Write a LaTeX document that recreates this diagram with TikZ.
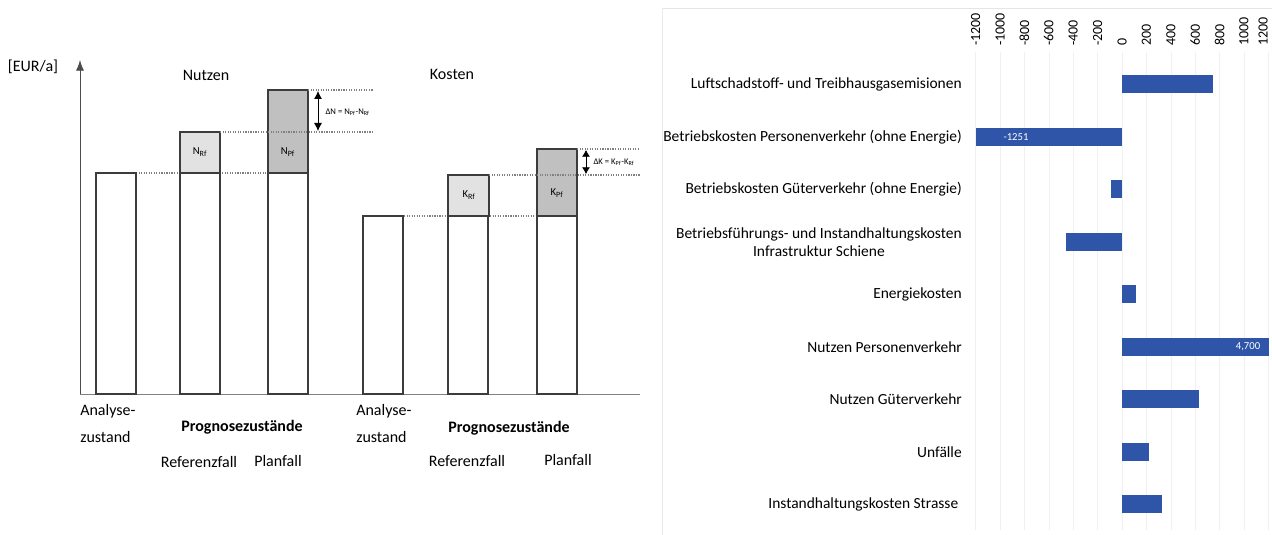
\documentclass[tikz,border=0pt]{standalone}
\usepackage{fontspec}
\setmainfont{Carlito}
\usetikzlibrary{arrows.meta}
\usetikzlibrary{positioning}
\definecolor{barblue}{RGB}{47,85,168}
\definecolor{lightbox}{RGB}{226,226,226}
\definecolor{darkbox}{RGB}{192,192,192}
\definecolor{boxline}{RGB}{60,60,60}

\begin{document}
\begin{tikzpicture}[x=0.75pt, y=-0.75pt,
  bar/.style={draw=boxline, line width=1.4pt},
  guide/.style={densely dotted, gray, line width=0.9pt},
  lbl/.style={font=\fontsize{12}{14}\selectfont, inner sep=0pt},
  small/.style={font=\fontsize{6.5}{8}\selectfont, inner sep=1pt},
  boxlbl/.style={font=\fontsize{8}{9}\selectfont, inner sep=1pt},
  cat/.style={font=\fontsize{11.6}{13.5}\selectfont, anchor=east, align=center, inner sep=0pt},
  tick/.style={font=\fontsize{10.5}{12}\selectfont, rotate=90, anchor=west, inner sep=0pt}]

 \useasboundingbox (0,0) rectangle (1272,535);

 %left: axes
 \coordinate (origin) at (80,394);
 \coordinate (ytop) at (80,60);
 \coordinate (xend) at (640,394);
 \draw[gray, line width=0.6pt] (origin) -- (xend);
 \draw[-{Latex[length=8pt,width=6pt]}, gray!60!black, line width=0.6pt] (origin) -- (ytop);
 \node[lbl] (unit) at (33,67) {[EUR/a]};

 % guides
 \draw[guide] (136,173) -- (268,173);
 \draw[guide] (404,216) -- (537,216);

 % bars
 \foreach \xl/\top in { 96/173, 180/173, 268/173, 363/216, 448/216, 537/216 } {
         \draw[bar, fill=white] (\xl,394) rectangle (\xl+40,\top);
 }
 \draw[bar, fill=lightbox] (180,173) rectangle (220,132);
 \draw[bar, fill=darkbox] (268,173) rectangle (308,90);
 \draw[bar, fill=lightbox] (448,216) rectangle (489,175);
 \draw[bar, fill=darkbox] (537,216) rectangle (577,149);

 \draw[guide] (220,132) -- (373,132);
 \draw[guide] (308,90) -- (373,90);
 \draw[guide] (489,175) -- (640,175);
 \draw[guide] (577,149) -- (640,149);

 \node[boxlbl] (nrf) at (200,152) {N\textsubscript{Rf}};
 \node[boxlbl] (npf) at (288,152) {N\textsubscript{Pf}};
 \node[boxlbl] (krf) at (469,195) {K\textsubscript{Rf}};
 \node[boxlbl] (kpf) at (557,193) {K\textsubscript{Pf}};

 % differences
 \coordinate (dn1) at (318,91);
 \coordinate (dn2) at (318,131);
 \draw[{Latex[length=6pt,width=6pt]}-{Latex[length=6pt,width=6pt]}, line width=0.6pt] (dn1) -- (dn2);
 \node[small, anchor=west] (dn) at (324,112) {ΔN = N\textsubscript{Pf}-N\textsubscript{Rf}};
 \coordinate (dk1) at (586,150);
 \coordinate (dk2) at (586,174);
 \draw[{Latex[length=5pt,width=6pt]}-{Latex[length=5pt,width=6pt]}, line width=0.6pt] (dk1) -- (dk2);
 \node[small, anchor=west] (dk) at (592,162) {ΔK = K\textsubscript{Pf}-K\textsubscript{Rf}};

 % titles and x labels
 \node[lbl] (nutzen) at (206,75) {Nutzen};
 \node[lbl] (kosten) at (452,74) {Kosten};
 \foreach \x/\s in { 80/1, 356/2 } {
         \node[lbl, anchor=west] (ana\s) at (\x,411) {Analyse-};
         \node[lbl, anchor=west] (zus\s) at (\x,437) {zustand};
 }
 \node[lbl, font=\fontsize{12}{14}\selectfont\bfseries] (prog1) at (242,427) {Prognosezustände};
 \node[lbl, font=\fontsize{12}{14}\selectfont\bfseries] (prog2) at (509,428) {Prognosezustände};
 \node[lbl] (ref1) at (199,462) {Referenzfall};
 \node[lbl] (plan1) at (278,461) {Planfall};
 \node[lbl] (ref2) at (467,461) {Referenzfall};
 \node[lbl] (plan2) at (568,460) {Planfall};

 %right: bar chart
 \draw[black!10] (662,8) -- (1272,8);
 \draw[black!8] (662,8) -- (662,535);
 \foreach \v in { -1200,-1000,...,1200 } {
         \pgfmathsetmacro{\tx}{min(1122+\v*0.122,1263)}
         \draw[black!6] ({1122+\v*0.122},52) -- ({1122+\v*0.122},530);
         \node[tick] (t\v) at (\tx,46) {\v};
 }

 \foreach \yy/\val/\n/\txt in {
     84/746/c1/{Luftschadstoff- und Treibhausgasemisionen},
     137/-1200/c2/{Betriebskosten Personenverkehr (ohne Energie)},
     189/-90/c3/{Betriebskosten Güterverkehr (ohne Energie)},
     242/-460/c4/{Betriebsführungs- und Instandhaltungskosten\\Infrastruktur Schiene},
     294/115/c5/{Energiekosten},
     347/1205/c6/{Nutzen Personenverkehr},
     399/630/c7/{Nutzen Güterverkehr},
     452/220/c8/{Unfälle},
     504/330/c9/{Instandhaltungskosten Strasse} } {
         \fill[barblue] (1122,\yy-9) rectangle ({1122+\val*0.122},\yy+9);
         \node[cat] (\n) at (962,\yy) {\txt};
 }
 \node[boxlbl, text=white] (v2) at (1016,137) {-1251};
 \node[boxlbl, text=white] (v6) at (1248,347) {4,700};

\end{tikzpicture}
\end{document}
